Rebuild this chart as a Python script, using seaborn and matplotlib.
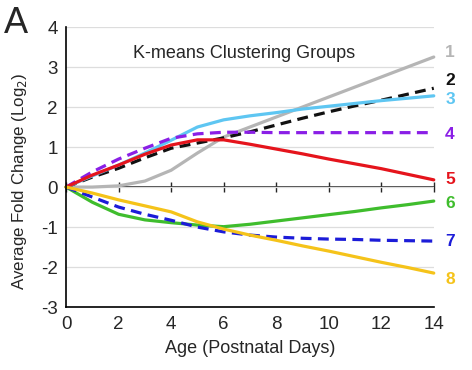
import seaborn as sns
import matplotlib.pyplot as plt
import pandas as pd

days = list(range(15))
groups = ['1', '2', '3', '4', '5', '6', '7', '8']

g1 = [0, 0.0, 0.03, 0.15, 0.42, 0.85, 1.25, 1.5, 1.75, 2.0, 2.25, 2.5, 2.75, 3.0, 3.25]
g2 = [0, 0.25, 0.47, 0.73, 0.97, 1.1, 1.23, 1.38, 1.55, 1.72, 1.88, 2.03, 2.17, 2.32, 2.47]
g3 = [0, 0.28, 0.55, 0.85, 1.17, 1.5, 1.68, 1.78, 1.86, 1.95, 2.02, 2.09, 2.16, 2.22, 2.28]
g4 = [0, 0.38, 0.7, 0.97, 1.22, 1.33, 1.37, 1.37, 1.36, 1.36, 1.36, 1.36, 1.36, 1.36, 1.36]
g5 = [0, 0.3, 0.55, 0.82, 1.05, 1.18, 1.18, 1.07, 0.95, 0.83, 0.7, 0.58, 0.46, 0.32, 0.18]
g6 = [0, -0.38, -0.68, -0.82, -0.89, -0.95, -0.99, -0.93, -0.85, -0.77, -0.69, -0.61, -0.52, -0.44, -0.35]
g7 = [0, -0.25, -0.5, -0.68, -0.83, -1.0, -1.12, -1.2, -1.25, -1.28, -1.3, -1.31, -1.33, -1.34, -1.35]
g8 = [0, -0.15, -0.32, -0.47, -0.62, -0.87, -1.05, -1.2, -1.33, -1.47, -1.6, -1.74, -1.88, -2.01, -2.15]
series = [g1, g2, g3, g4, g5, g6, g7, g8]

colors = ['#b5b5b5', '#111111', '#5ec6f2', '#8a1fe6', '#e5141c', '#3fbd2d', '#1c1cd8', '#f5c31a']
dashed = ['2', '4', '7']
label_nudge = [0.12, 0.2, -0.08, -0.04, 0.0, -0.05, 0.0, -0.15]

rows = []
for g, vals in zip(groups, series):
    for d, v in zip(days, vals):
        rows.append({'day': d, 'fc': v, 'group': g})
df = pd.DataFrame(rows)

sns.set_style('white')
plt.rcParams['font.family'] = ['Liberation Sans', 'DejaVu Sans']
plt.rcParams['axes.unicode_minus'] = False

fig = plt.figure(figsize=(4.72, 3.70), dpi=100)
ax = fig.add_axes([0.14, 0.17, 0.779, 0.757])

ax.set_ylim(-3, 4)
ax.set_xlim(0, 14)
ax.set_yticks(range(-3, 5))
ax.set_xticks(range(0, 15, 2))
ax.grid(axis='y', color='#dddddd', lw=0.9)
ax.grid(axis='x', visible=False)

sns.lineplot(data=df, x='day', y='fc', hue='group', style='group',
             palette=dict(zip(groups, colors)),
             dashes={g: ((3.4, 2.0) if g in dashed else '') for g in groups},
             lw=2.3, legend=False, ax=ax, clip_on=False)

for g, vals, c, dy in zip(groups, series, colors, label_nudge):
    ax.text(14.62, vals[-1] + dy, g, color=c, fontsize=12.5, fontweight='bold',
            ha='center', va='center', clip_on=False)

ax.text(0.485, 0.905, 'K-means Clustering Groups', transform=ax.transAxes,
        ha='center', va='center', fontsize=13)

for s in ['top', 'right']:
    ax.spines[s].set_visible(False)
for s in ['left', 'bottom']:
    ax.spines[s].set_color('black')
    ax.spines[s].set_linewidth(1.2)
ax.tick_params(axis='both', labelsize=13.5, color='black', width=1.0)
ax.tick_params(axis='x', direction='inout', length=7, pad=3)
ax.tick_params(axis='y', direction='out', length=4, pad=2)

# zero line with its own tick marks
zero = ax.secondary_xaxis(3 / 7)
zero.spines['bottom'].set_linewidth(1.2)
zero.set_xticks(range(0, 15, 2))
zero.tick_params(direction='inout', length=7, width=1.0, labelbottom=False)

ax.set_xlabel('Age (Postnatal Days)', fontsize=13, labelpad=5)
ax.set_ylabel('Average Fold Change (Log$_2$)', fontsize=12.2)
ax.yaxis.set_label_coords(-0.1, 0.45)

fig.text(0.008, 0.912, 'A', fontsize=26)

fig.savefig('out.png', dpi=100)
